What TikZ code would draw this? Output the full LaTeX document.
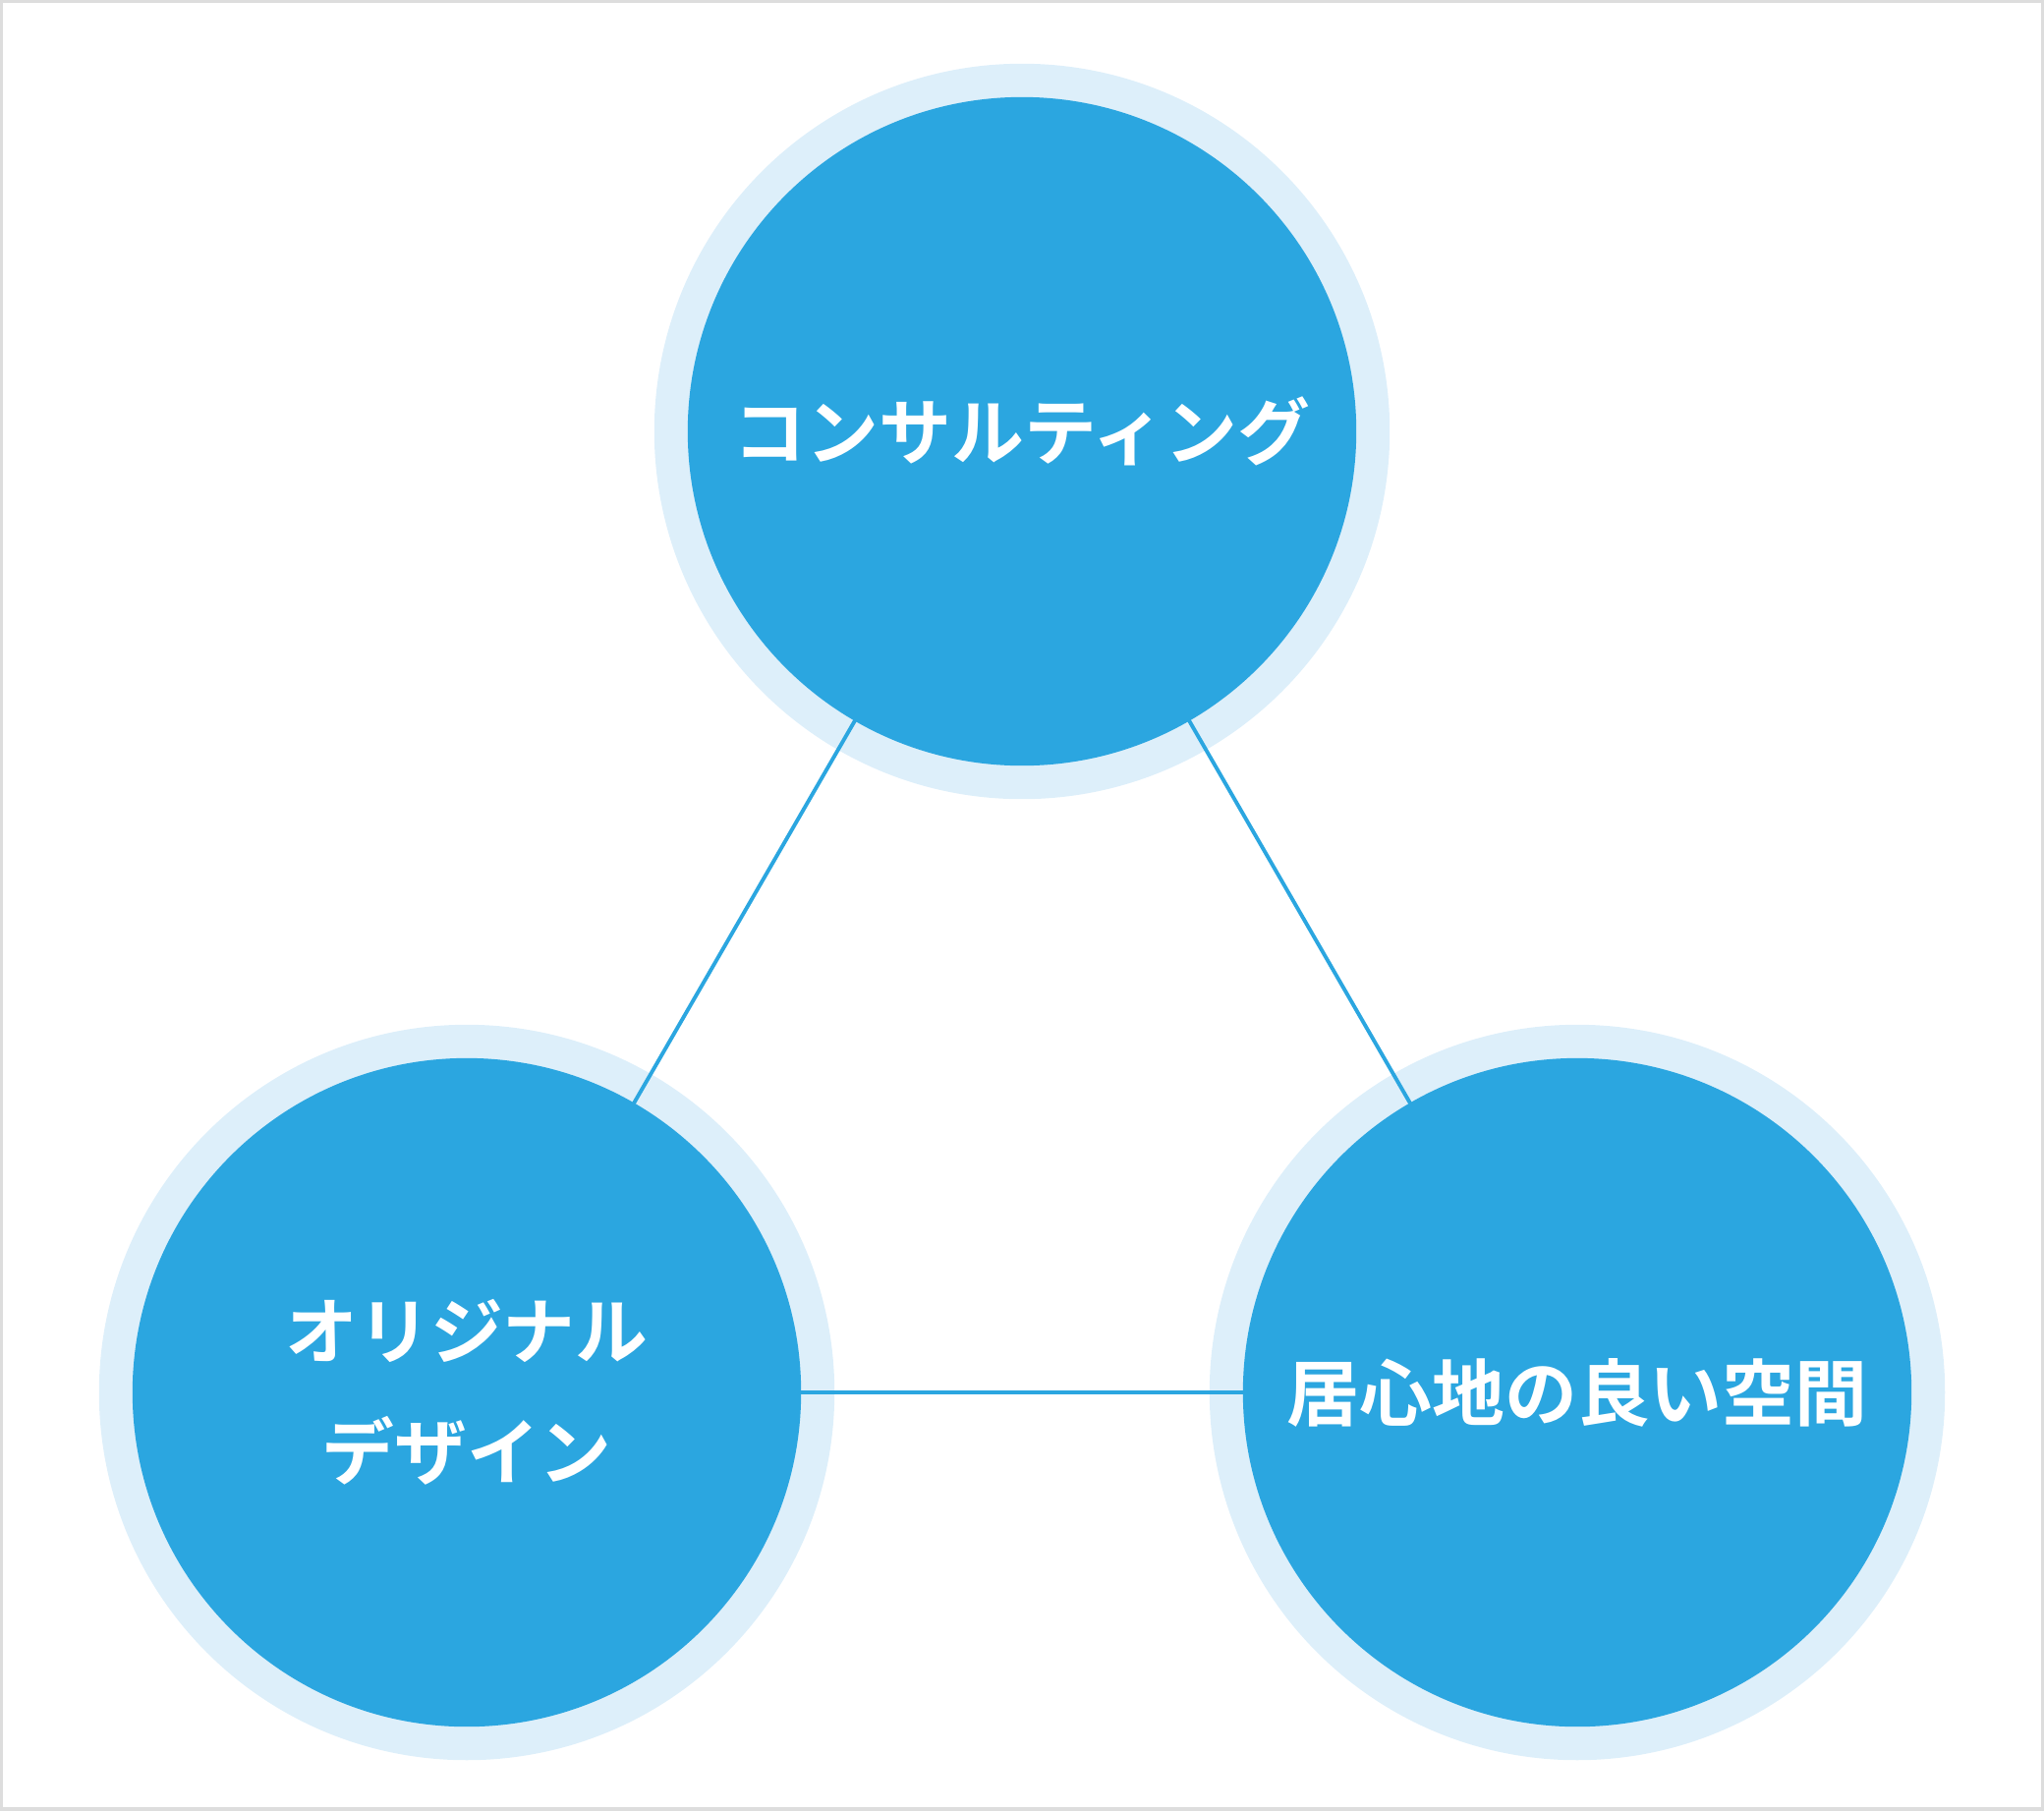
\documentclass[tikz,border=0pt]{standalone}
\usepackage{fontspec}
\newfontfamily\cjk{Noto Sans CJK JP}[BoldFont={* Bold}]
\definecolor{inner}{HTML}{2BA6E0}
\definecolor{outer}{HTML}{DDEFFA}
\definecolor{frame}{HTML}{DDDDDD}
\begin{document}
\begin{tikzpicture}[x=0.01cm,y=-0.01cm,
  ring/.style={circle,fill=outer,minimum size=7.48cm,inner sep=0pt},
  core/.style={circle,fill=inner,minimum size=6.8cm,inner sep=0pt,text=white,align=center,
    font=\cjk\bfseries\fontsize{21}{35}\selectfont},
  link/.style={draw=inner,line width=1.1pt}]
\useasboundingbox (0,0) rectangle (2080,1842);
\draw[frame,line width=1pt] (1,1) rectangle (2079,1841);
\node[ring] (rt) at (1040,439) {};
\node[ring] (rl) at (475,1417) {};
\node[ring] (rr) at (1605,1417) {};
\coordinate (t) at (1040,439);
\coordinate (l) at (475,1417);
\coordinate (r) at (1605,1417);
\draw[link] (t) -- (l) (t) -- (r) (l) -- (r);
\node[core] (a) at (t) {コンサルティング};
\node[core] (b) at (l) {オリジナル\\デザイン};
\node[core] (c) at (r) {居心地の良い空間};
\end{tikzpicture}
\end{document}
